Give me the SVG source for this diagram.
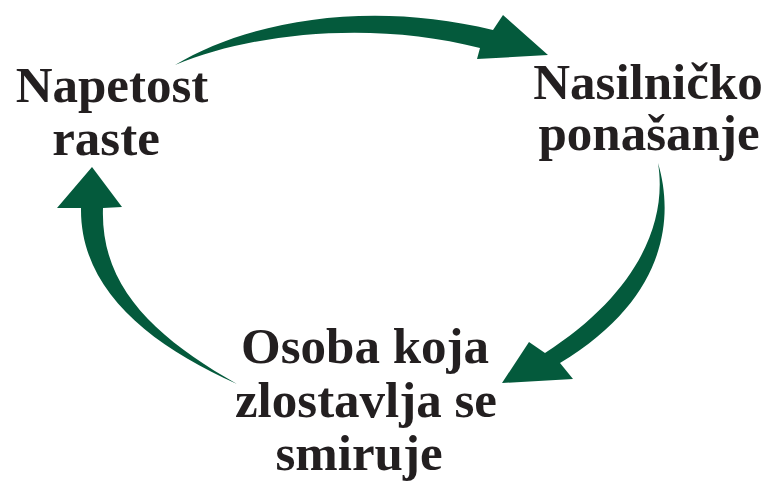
<svg xmlns="http://www.w3.org/2000/svg" width="769" height="482" viewBox="0 0 769 482">
<style>
.lbl{font-family:"Liberation Serif","Times New Roman",serif;font-weight:bold;font-size:51px;fill:#231f20;text-anchor:middle}
.arr{fill:#045a3c}
</style>
<rect width="769" height="482" fill="#ffffff"/>
<g id="connectors">
<path class="arr" d="M175,65 C250,20 370,0 493,30 L503,15 L548,55 L477,59 L480,48 C380,22 260,30 175,65 Z"/>
<path class="arr" d="M658,163 C675,220 665,300 560,363 L573,379 L502,383 L529,342 L545,353 C635,295 668,225 658,163 Z"/>
<path class="arr" d="M237,384 C150,345 80,290 81,208 L57,208 L92,167 L122,207 L103,208 C100,290 160,340 237,384 Z"/>
</g>
<g id="node-napetost">
<text class="lbl" x="112" y="102">Napetost</text>
<text class="lbl" x="106" y="155">raste</text>
</g>
<g id="node-nasilnicko">
<text class="lbl" x="648" y="99">Nasilničko</text>
<text class="lbl" x="649" y="150">ponašanje</text>
</g>
<g id="node-smiruje">
<text class="lbl" x="365" y="363">Osoba koja</text>
<text class="lbl" x="366" y="417">zlostavlja se</text>
<text class="lbl" x="359" y="470">smiruje</text>
</g>
</svg>
